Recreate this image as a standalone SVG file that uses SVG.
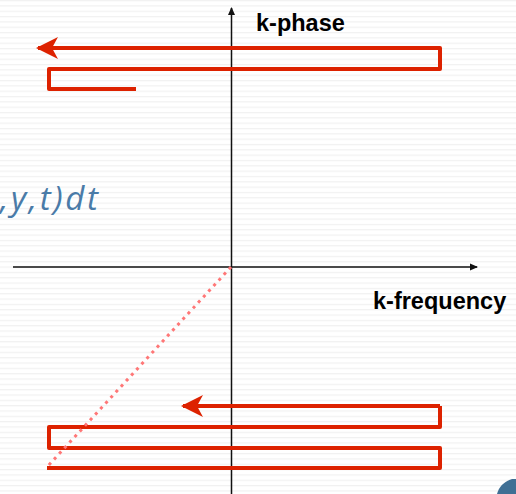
<svg xmlns="http://www.w3.org/2000/svg" width="516" height="494" viewBox="0 0 516 494">
<defs>
<pattern id="stripes" width="516" height="5.33" patternUnits="userSpaceOnUse">
<rect x="0" y="0" width="516" height="1.2" fill="#f1f1f1"/>
</pattern>
<marker id="axisHead" markerWidth="8" markerHeight="8" refX="7" refY="4" orient="auto" markerUnits="userSpaceOnUse">
<path d="M0,0.5 L8,4 L0,7.5 Z" fill="#111"/>
</marker>
<marker id="redHead" markerWidth="24" markerHeight="24" refX="20" refY="12" orient="auto" markerUnits="userSpaceOnUse">
<path d="M22,12 L0,1 L6,12 L0,23 Z" fill="#dd2200"/>
</marker>
<style>
.axis{stroke:#111;stroke-width:1.5;fill:none}
.red{stroke:#dd2200;stroke-width:4;fill:none;stroke-linejoin:round}
.lbl{font-family:"Liberation Sans",Arial,sans-serif;font-weight:bold;font-size:23.5px;fill:#000}
</style>
</defs>
<rect width="516" height="494" fill="#fff"/>
<rect width="516" height="494" fill="url(#stripes)"/>
<g id="formula">
<text x="0" y="210" font-family="'Open Sans','DejaVu Sans',sans-serif" font-style="italic" font-size="33" fill="#4a7ba8" textLength="98" lengthAdjust="spacing">,y,t)dt</text>
</g>
<g id="axes">
<line class="axis" x1="231.5" y1="494" x2="231.5" y2="8" marker-end="url(#axisHead)"/>
<line class="axis" x1="13" y1="267" x2="477" y2="267" marker-end="url(#axisHead)"/>
</g>
<g id="k-phase"><text class="lbl" x="256" y="31">k-phase</text></g>
<g id="k-frequency"><text class="lbl" x="373" y="309">k-frequency</text></g>
<g id="connectors">
<path class="red" d="M136,89 H49 V69 H440 V48 H38" marker-end="url(#redHead)"/>
<line class="red" x1="440" y1="406" x2="183" y2="406" marker-end="url(#redHead)"/>
<path class="red" d="M440,406 V427 H49 V448 H440 V468 H47"/>
<line x1="231" y1="267" x2="47" y2="467" stroke="#ff7777" stroke-width="3" stroke-dasharray="3 4.6"/>
</g>
<g id="logo">
<path d="M497,494 C499,486 505,481 512,479 L516,479 L516,494 Z" fill="#3f6f94"/>
</g>
</svg>
